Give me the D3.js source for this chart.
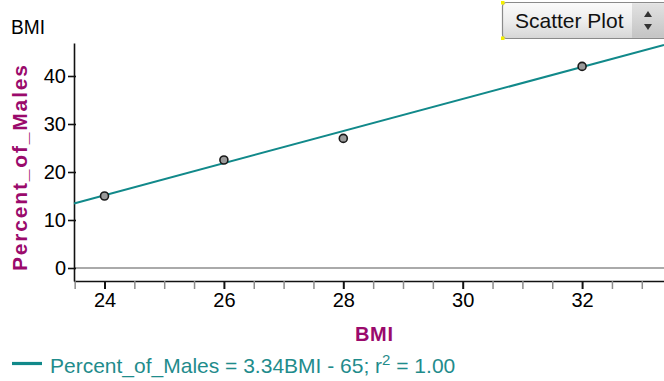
<!DOCTYPE html>
<html>
<head>
<meta charset="utf-8">
<script src="https://cdn.jsdelivr.net/npm/d3@7/dist/d3.min.js"></script>
<style>
  html, body { margin: 0; padding: 0; background: #fff; }
  svg { display: block; font-family: "Liberation Sans", Arial, Helvetica, sans-serif; }
</style>
</head>
<body>
<svg id="chart" width="664" height="381"></svg>
<script>
// Observations: BMI vs percent of males
const bmi = [24, 26, 28, 32];
const percentMales = [15, 22.5, 27, 42];

// Least-squares line as reported in the legend
const fitSlope = 3.34;
const fitIntercept = -65;
const fitLabel = "Percent_of_Males = 3.34BMI - 65; r";
const fitR2 = "1.00";

// Axis ticks
const xTicks = d3.range(23.5, 33.01, 0.5);
const xLabelled = [24, 26, 28, 30, 32];
const yTicks = [0, 10, 20, 30, 40];

const purple = "#9a0a6c";
const teal = "#11898a";

const svg = d3.select("#chart");

const x = d3.scaleLinear().domain([23.489, 33.372]).range([74, 664]);
const y = d3.scaleLinear().domain([-2.708, 46.875]).range([281, 43]);

// Zero reference line
svg.append("line")
  .attr("x1", x.range()[0]).attr("x2", x.range()[1])
  .attr("y1", y(0)).attr("y2", y(0))
  .attr("stroke", "#aaaaaa").attr("stroke-width", 2);

// X axis
const xAxis = svg.append("g")
  .attr("transform", `translate(0,${y.range()[0]})`)
  .call(d3.axisBottom(x).tickValues(xTicks).tickSize(8).tickSizeOuter(0)
    .tickFormat(d => xLabelled.includes(d) ? d3.format("d")(d) : ""));
xAxis.select(".domain").attr("stroke", "#111").attr("stroke-width", 1.6);
xAxis.selectAll(".tick line")
  .attr("stroke", d => xLabelled.includes(d) ? "#111" : "#8c8c8c")
  .attr("stroke-width", d => xLabelled.includes(d) ? 2 : 1.5);
xAxis.selectAll(".tick text")
  .attr("fill", "#000").attr("font-size", 20)
  .attr("y", 12).attr("dy", "0.71em")
  .attr("font-family", "Liberation Sans, Arial, sans-serif");

// Y axis
const yAxis = svg.append("g")
  .attr("transform", `translate(${x.range()[0]},0)`)
  .call(d3.axisLeft(y).tickValues(yTicks).tickSize(6).tickSizeOuter(0).tickPadding(2));
yAxis.select(".domain").attr("stroke", "#111").attr("stroke-width", 1.6);
yAxis.selectAll(".tick line").attr("stroke", "#111").attr("stroke-width", 1.6).attr("x2", 2).attr("x1", -6);
yAxis.selectAll(".tick text")
  .attr("fill", "#000").attr("font-size", 20)
  .attr("font-family", "Liberation Sans, Arial, sans-serif");

// Regression line across the plotted BMI range
const xd = x.domain();
svg.append("line")
  .attr("x1", x(xd[0])).attr("y1", y(fitSlope * xd[0] + fitIntercept))
  .attr("x2", x(xd[1])).attr("y2", y(fitSlope * xd[1] + fitIntercept))
  .attr("stroke", teal).attr("stroke-width", 2);

// Points
svg.append("g").selectAll("circle")
  .data(bmi.map((b, i) => ({ b, p: percentMales[i] })))
  .join("circle")
  .attr("cx", d => x(d.b)).attr("cy", d => y(d.p))
  .attr("r", 4)
  .attr("fill", "#9a9a9a").attr("stroke", "#1a1a1a").attr("stroke-width", 1.6);

// Top-left variable name
svg.append("text").attr("x", 11).attr("y", 34)
  .attr("font-size", 20).attr("fill", "#000")
  .attr("textLength", 34).attr("lengthAdjust", "spacingAndGlyphs")
  .text("BMI");

// Axis titles
svg.append("text")
  .attr("x", 374).attr("y", 341).attr("text-anchor", "middle")
  .attr("font-size", 20).attr("font-weight", "bold").attr("fill", purple)
  .attr("textLength", 38).attr("lengthAdjust", "spacing")
  .text("BMI");

svg.append("text")
  .attr("transform", "translate(27,168) rotate(-90)")
  .attr("text-anchor", "middle")
  .attr("font-size", 21).attr("font-weight", "bold").attr("fill", purple)
  .attr("textLength", 206).attr("lengthAdjust", "spacing")
  .text("Percent_of_Males");

// Legend
svg.append("line")
  .attr("x1", 12).attr("x2", 42).attr("y1", 363.5).attr("y2", 363.5)
  .attr("stroke", teal).attr("stroke-width", 3.2);
const legend = svg.append("text")
  .attr("x", 50).attr("y", 373).attr("font-size", 21).attr("fill", "#1f8c8c");
legend.append("tspan").text(fitLabel);
legend.append("tspan").attr("font-size", 15).attr("dy", -8).text("2");
legend.append("tspan").attr("dy", 8).text(" = " + fitR2);

// Plot type selector
const defs = svg.append("defs");
const grad = defs.append("linearGradient").attr("id", "btn").attr("x1", 0).attr("y1", 0).attr("x2", 0).attr("y2", 1);
grad.append("stop").attr("offset", "0%").attr("stop-color", "#fbfbfb");
grad.append("stop").attr("offset", "55%").attr("stop-color", "#ececec");
grad.append("stop").attr("offset", "100%").attr("stop-color", "#d6d6d6");
const grad2 = defs.append("linearGradient").attr("id", "spin").attr("x1", 0).attr("y1", 0).attr("x2", 0).attr("y2", 1);
grad2.append("stop").attr("offset", "0%").attr("stop-color", "#e2e2e2");
grad2.append("stop").attr("offset", "100%").attr("stop-color", "#c4c4c4");

const sel = svg.append("g");
sel.append("rect").attr("x", 502.5).attr("y", 2.5).attr("width", 175).attr("height", 36).attr("rx", 4)
  .attr("fill", "url(#btn)").attr("stroke", "#8a8a8a").attr("stroke-width", 1.2);
sel.append("rect").attr("x", 632).attr("y", 3.2).attr("width", 40).attr("height", 34.6)
  .attr("fill", "url(#spin)");
sel.append("text").attr("x", 515).attr("y", 28).attr("font-size", 21).attr("fill", "#111")
  .text("Scatter Plot");
sel.append("path").attr("d", "M644,17 L648,11 L652,17 Z").attr("fill", "#333");
sel.append("path").attr("d", "M644,24 L648,30 L652,24 Z").attr("fill", "#333");
sel.append("rect").attr("x", 501).attr("y", 1).attr("width", 3.5).attr("height", 3.5).attr("fill", "#f4f000");
sel.append("rect").attr("x", 501).attr("y", 36.5).attr("width", 3.5).attr("height", 3.5).attr("fill", "#f4f000");
</script>
</body>
</html>
